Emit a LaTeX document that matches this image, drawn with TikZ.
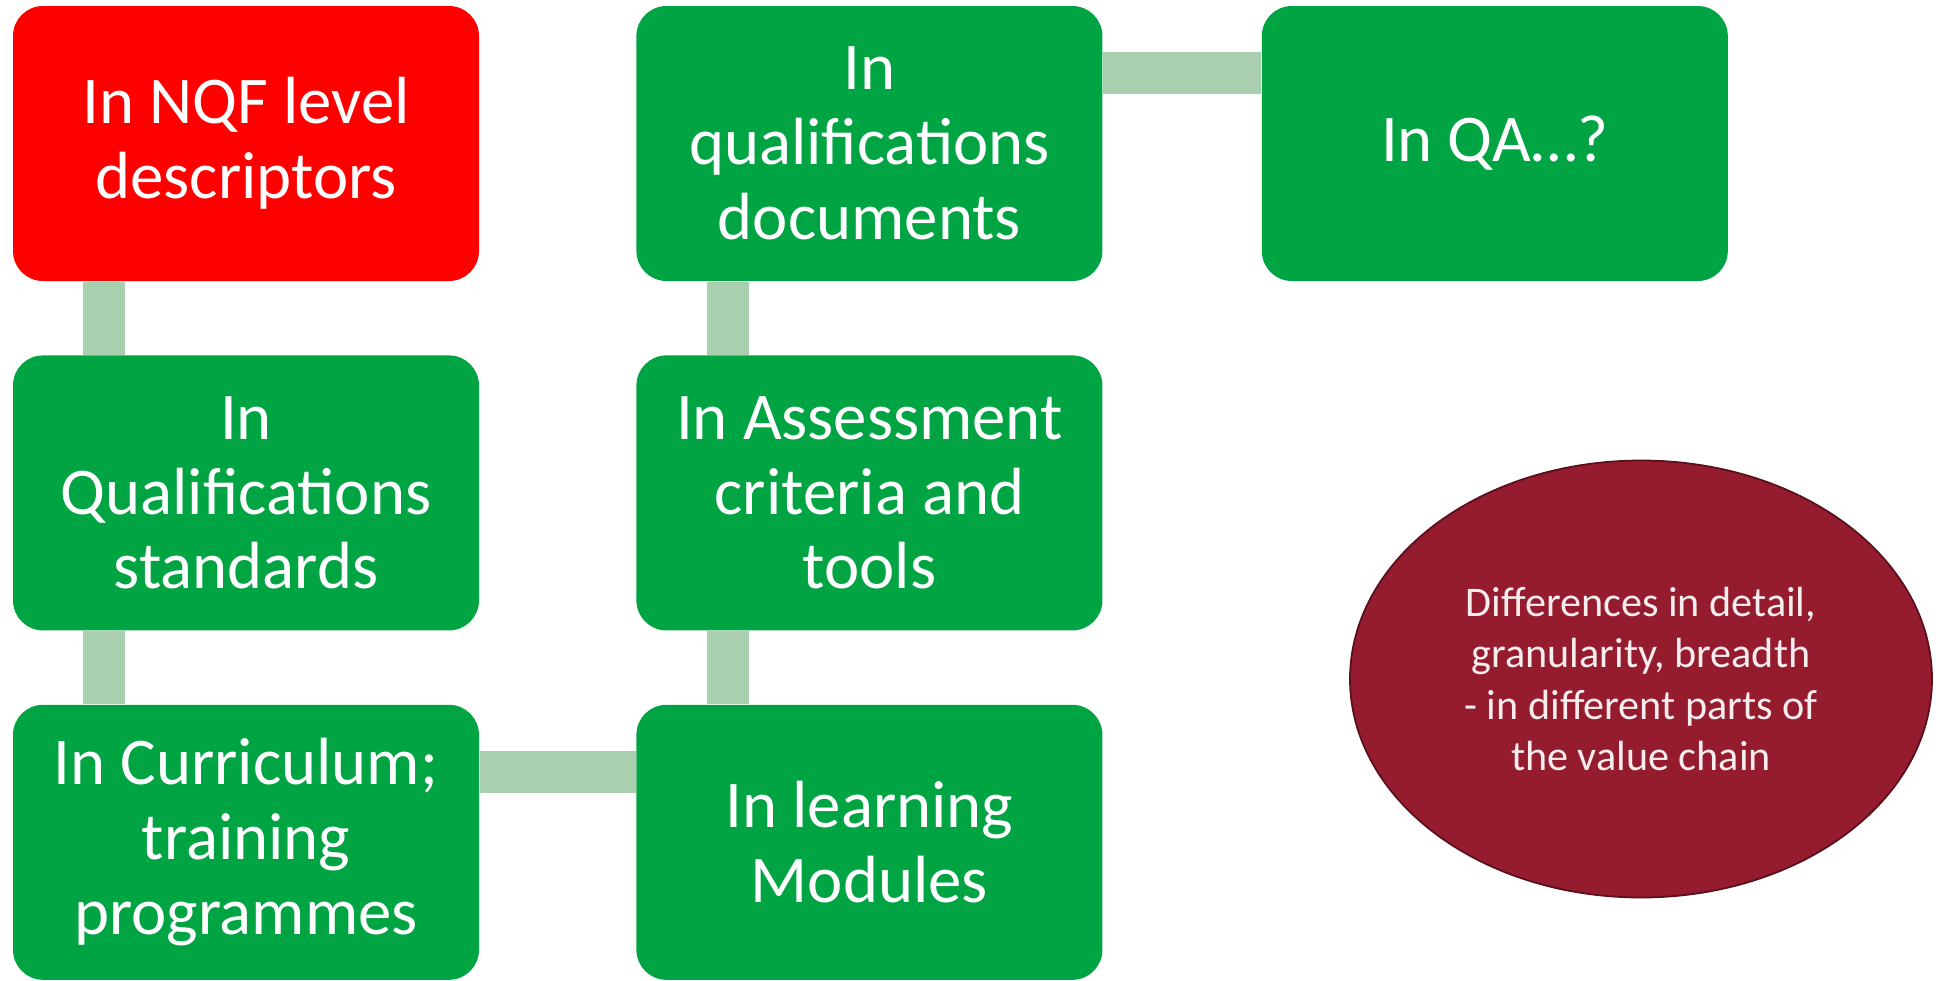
\documentclass[tikz,border=0pt]{standalone}
\usepackage{fontspec}
\setmainfont{Carlito}
\usepackage{xcolor}
\definecolor{colorDescriptor}{HTML}{FF0000}
\definecolor{colorStage}{HTML}{00A443}
\definecolor{colorLink}{HTML}{AACFAF}
\definecolor{colorNote}{HTML}{951B2E}
\usetikzlibrary{positioning, shapes.geometric}
\tikzset{
  stage/.style={rectangle, rounded corners=0.3cm, fill=colorStage, text=white, minimum width=4.66cm, minimum height=2.75cm, inner sep=0pt, align=center, font=\fontsize{19}{21.3}\selectfont},
  link/.style={draw=colorLink, line width=0.42cm},
  note/.style={ellipse, fill=colorNote, draw=colorNote!60!black, line width=0.5pt, minimum width=5.82cm, minimum height=4.37cm, inner sep=0pt, text=white!92!colorNote, align=center, font=\fontsize{12}{14.6}\selectfont}
}

\begin{document}
\begin{tikzpicture}[node distance=0.73cm and 1.56cm]
\useasboundingbox (0,0) rectangle (19.42,9.8);
\node[stage, fill=colorDescriptor] (nqf) at (2.46,8.365) {In NQF level\\descriptors};
\node[stage, below=of nqf] (qstand) {In\\Qualifications\\standards};
\node[stage, below=of qstand] (curr) {In Curriculum;\\training\\programmes};
\node[stage, right=of curr] (modules) {In learning\\Modules};
\node[stage, right=of nqf] (qdocs) {In\\qualifications\\documents};
\node[stage, below=of qdocs] (assess) {In Assessment\\criteria and\\tools};
\node[stage, right=1.58cm of qdocs] (qa) {In QA…?};
\node[note] (diff) at (16.41,3.01) {Differences in detail,\\granularity, breadth\\- in different parts of\\the value chain};
\draw[link] ([xshift=0.92cm]nqf.south west) -- ([xshift=0.92cm]qstand.north west);
\draw[link] ([xshift=0.92cm]qstand.south west) -- ([xshift=0.92cm]curr.north west);
\draw[link] ([yshift=-0.68cm]curr.north east) -- ([yshift=-0.68cm]modules.north west);
\draw[link] ([xshift=0.92cm]modules.north west) -- ([xshift=0.92cm]assess.south west);
\draw[link] ([xshift=0.92cm]assess.north west) -- ([xshift=0.92cm]qdocs.south west);
\draw[link] ([yshift=-0.68cm]qdocs.north east) -- ([yshift=-0.68cm]qa.north west);
\end{tikzpicture}
\end{document}
